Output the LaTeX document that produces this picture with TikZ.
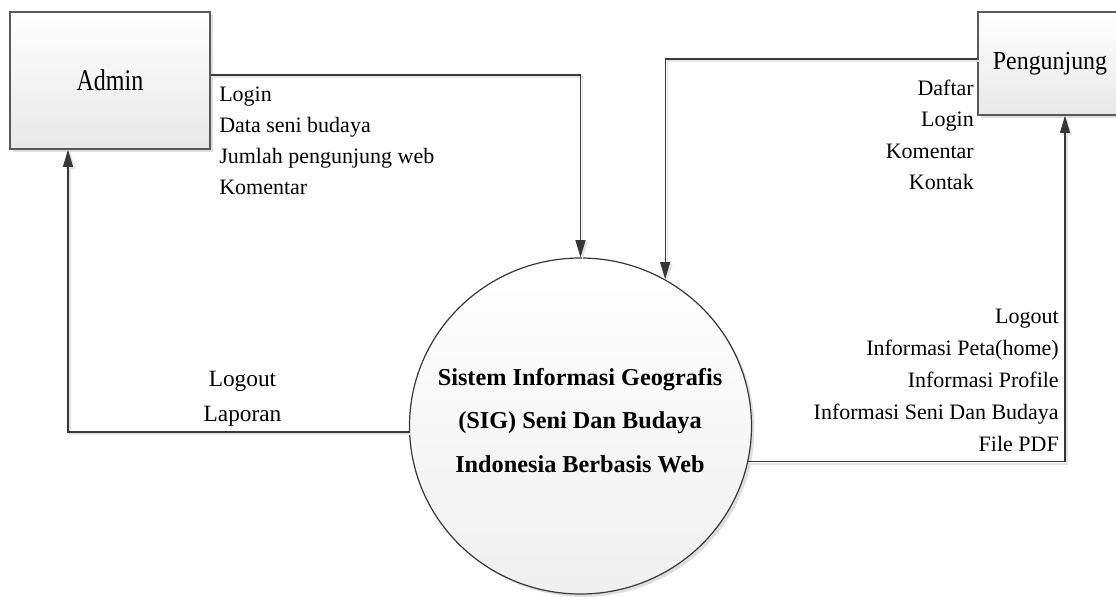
\documentclass[tikz,border=0pt]{standalone}
\usepackage{fontspec}
\usepackage{graphicx}
\setmainfont{Liberation Serif}
\usetikzlibrary{arrows.meta,shapes.geometric,shadows}
\begin{document}
\begin{tikzpicture}[x=0.75pt,y=-0.75pt,
  softshadow/.style={drop shadow={shadow xshift=2.2pt,shadow yshift=-2.2pt,fill=black!13,opacity=1}},
  entity/.style={rectangle,draw=black!65,line width=0.9pt,top color=white,bottom color=black!9,
    inner sep=0pt,softshadow},
  process/.style={ellipse,draw=black!78,line width=0.9pt,top color=white,bottom color=black!6,
    inner sep=0pt,softshadow},
  flow/.style={draw=black!78,line width=0.9pt,-{Triangle[length=13pt,width=7.5pt]},
    preaction={draw=black!10,line width=1.2pt,transform canvas={shift={(1.6pt,-1.6pt)}}}},
  lbl/.style={font=\fontsize{16.5}{20}\selectfont,inner sep=0pt},
  biglbl/.style={font=\fontsize{17.5}{21}\selectfont,inner sep=0pt},
  proclbl/.style={font=\fontsize{18.2}{22}\selectfont\bfseries,inner sep=0pt}]

\clip (0,0) rectangle (1116,596);

% external entities and the process
\node[entity,minimum width=150pt,minimum height=102.75pt,font=\fontsize{22.5}{27}\selectfont]
  (admin) at (110,80.5) {\scalebox{0.8}[1]{Admin}};
\node[entity,minimum width=108pt,minimum height=77.25pt,font=\fontsize{19.5}{23}\selectfont]
  (peng) at (1050,63.5) {\scalebox{0.92}[1]{Pengunjung}};
\node[process,minimum width=256.5pt,minimum height=252pt] (sys) at (580.5,426) {};

% process name
\node[proclbl,anchor=base] (p1) at (580,385) {Sistem Informasi Geografis};
\node[proclbl,anchor=base] (p2) at (580,428.5) {(SIG) Seni Dan Budaya};
\node[proclbl,anchor=base] (p3) at (580,472) {Indonesia Berbasis Web};

% data flows
\draw[flow] (admin.east |- 0,75) -| (sys.north);
\draw[flow] (peng.west |- 0,59) -| (sys.60);
\draw[flow] (sys.182) -| (admin.south -| 68,0);
\draw[flow] (sys.348.5) -| (peng.south -| 1065,0);

% flow labels: Admin -> system
\foreach \t [count=\i] in {Login,Data seni budaya,Jumlah pengunjung web,Komentar}
  \node[lbl,anchor=base west] (ain\i) at (219,{101.7+31*(\i-1)}) {\t};

% flow labels: Pengunjung -> system
\foreach \t [count=\i] in {Daftar,Login,Komentar,Kontak}
  \node[lbl,anchor=base east] (pin\i) at (974,{95+31.5*(\i-1)}) {\t};

% flow labels: system -> Admin
\node[biglbl,anchor=base] (aout1) at (242.5,386) {Logout};
\node[biglbl,anchor=base] (aout2) at (242.5,421) {Laporan};

% flow labels: system -> Pengunjung
\foreach \t [count=\i] in {Logout,Informasi Peta(home),Informasi Profile,Informasi Seni Dan Budaya,File PDF}
  \node[lbl,anchor=base east] (pout\i) at (1059,{323+32*(\i-1)}) {\t};

\end{tikzpicture}
\end{document}
